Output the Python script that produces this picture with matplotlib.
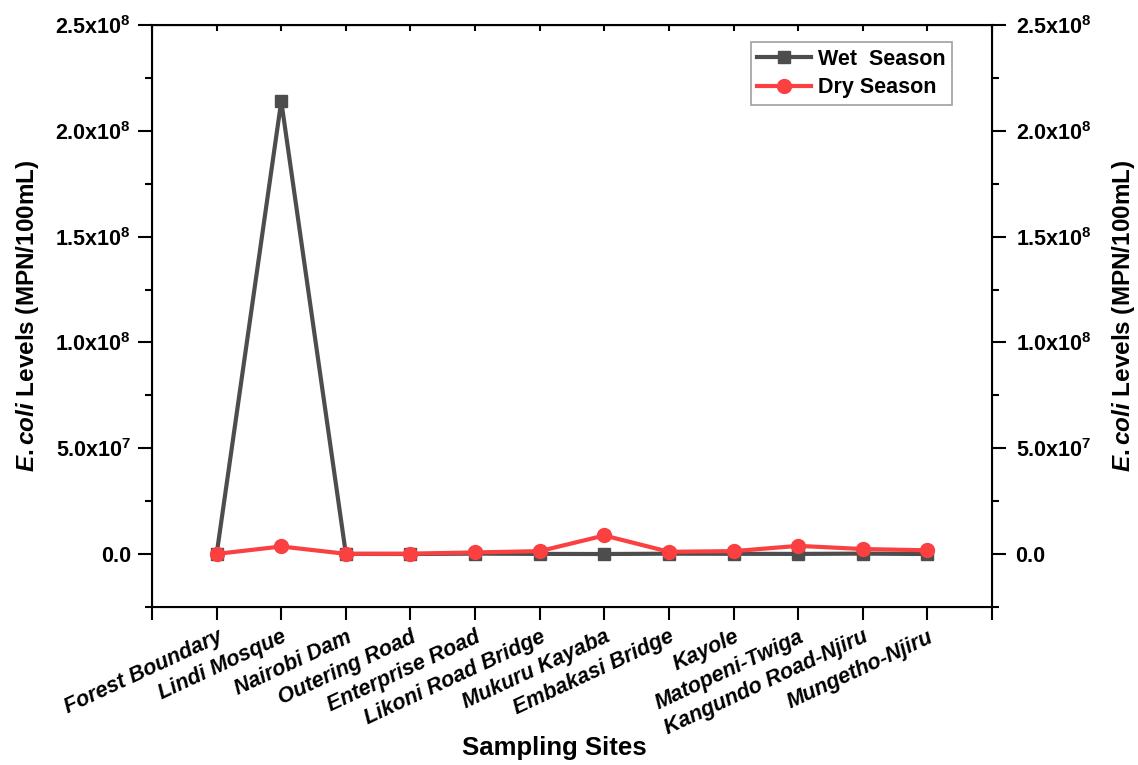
import matplotlib
matplotlib.use("Agg")
import matplotlib.pyplot as plt
from matplotlib.ticker import FixedLocator, MultipleLocator, FuncFormatter

plt.rcParams["font.family"] = ["Liberation Sans", "DejaVu Sans"]
plt.rcParams["font.weight"] = "bold"
plt.rcParams["mathtext.fontset"] = "custom"
plt.rcParams["mathtext.rm"] = "Liberation Sans:bold"
plt.rcParams["mathtext.it"] = "Liberation Sans:bold:italic"
plt.rcParams["mathtext.bf"] = "Liberation Sans:bold"
plt.rcParams["mathtext.default"] = "regular"

sites = ["Forest Boundary", "Lindi Mosque", "Nairobi Dam", "Outering Road",
         "Enterprise Road", "Likoni Road Bridge", "Mukuru Kayaba", "Embakasi Bridge",
         "Kayole", "Matopeni-Twiga", "Kangundo Road-Njiru", "Mungetho-Njiru"]
wet_season = [1.5e4, 2.14e8, 9.3e4, 4.6e4, 2.4e5, 1.1e5, 4.6e4, 2.1e5,
              1.5e5, 9.3e4, 2.4e5, 4.6e4]
dry_season = [1.0e5, 3.6e6, 1.5e5, 2.0e5, 8.0e5, 1.4e6, 8.8e6, 1.1e6,
              1.4e6, 3.9e6, 2.4e6, 1.8e6]

wet_color = "#4d4d4d"
dry_color = "#fa4040"


def sci_label(v, pos):
    if abs(v) < 1:
        return "0.0"
    exp = len(str(int(abs(v)))) - 1
    mant = v / 10 ** exp
    return f"{mant:.1f}x10$^{{{exp}}}$"


fig = plt.figure(figsize=(11.38, 7.65), dpi=100)
ax = fig.add_axes([0.1336, 0.2065, 0.7381, 0.7608])

x = list(range(1, len(sites) + 1))
ax.plot(x, wet_season, color=wet_color, lw=3, marker="s", ms=9, label="Wet  Season")
ax.plot(x, dry_season, color=dry_color, lw=3, marker="o", ms=10, label="Dry Season")

ax.set_xlim(0, 13)
ax.set_ylim(-2.5e7, 2.5e8)

ax.xaxis.set_major_locator(FixedLocator(list(range(0, 14))))
ax.set_xticklabels([""] + sites + [""], rotation=25, ha="right",
                   rotation_mode="anchor", fontsize=15.5, style="italic", fontweight="bold")
ax.yaxis.set_major_locator(MultipleLocator(5e7))
ax.yaxis.set_minor_locator(MultipleLocator(2.5e7))
ax.yaxis.set_major_formatter(FuncFormatter(sci_label))

ax.tick_params(axis="x", which="major", direction="out", length=9, width=1.5, pad=5)
ax.tick_params(axis="y", which="major", direction="out", length=10, width=1.5,
               labelsize=15.5, pad=5)
ax.tick_params(axis="y", which="minor", direction="out", length=5, width=1.5)
for lbl in ax.get_yticklabels():
    lbl.set_fontweight("bold")
for s in ax.spines.values():
    s.set_linewidth(1.5)

# short inward ticks along the top edge
top = ax.secondary_xaxis("top")
top.set_xticks(list(range(0, 14)))
top.set_xticklabels([])
top.tick_params(direction="in", length=4, width=1.5)

ax2 = ax.twinx()
ax2.set_ylim(ax.get_ylim())
ax2.yaxis.set_major_locator(MultipleLocator(5e7))
ax2.yaxis.set_minor_locator(MultipleLocator(2.5e7))
ax2.yaxis.set_major_formatter(FuncFormatter(sci_label))
ax2.tick_params(axis="y", which="major", direction="out", length=10, width=1.5,
                labelsize=15.5, pad=7)
ax2.tick_params(axis="y", which="minor", direction="out", length=5, width=1.5)
for lbl in ax2.get_yticklabels():
    lbl.set_fontweight("bold")

ylabel = r"$\mathit{E{.}coli}$ Levels (MPN/100mL)"
ax.set_ylabel(ylabel, fontsize=17.5, fontweight="bold", labelpad=10)
ax2.set_ylabel(ylabel, fontsize=17.5, fontweight="bold", labelpad=13)
ax.set_xlabel("Sampling Sites", fontsize=18.5, fontweight="bold")
ax.xaxis.set_label_coords(0.4786, -0.222)

leg = ax.legend(loc="upper right", bbox_to_anchor=(0.952, 0.97), fontsize=15.5,
                frameon=True, fancybox=False, edgecolor="#888888", handlelength=2.5,
                borderpad=0.3, labelspacing=0.35, handletextpad=0.3, borderaxespad=0)
leg.get_frame().set_linewidth(1.2)
for t in leg.get_texts():
    t.set_fontweight("bold")

fig.savefig("out.png", dpi=100)
